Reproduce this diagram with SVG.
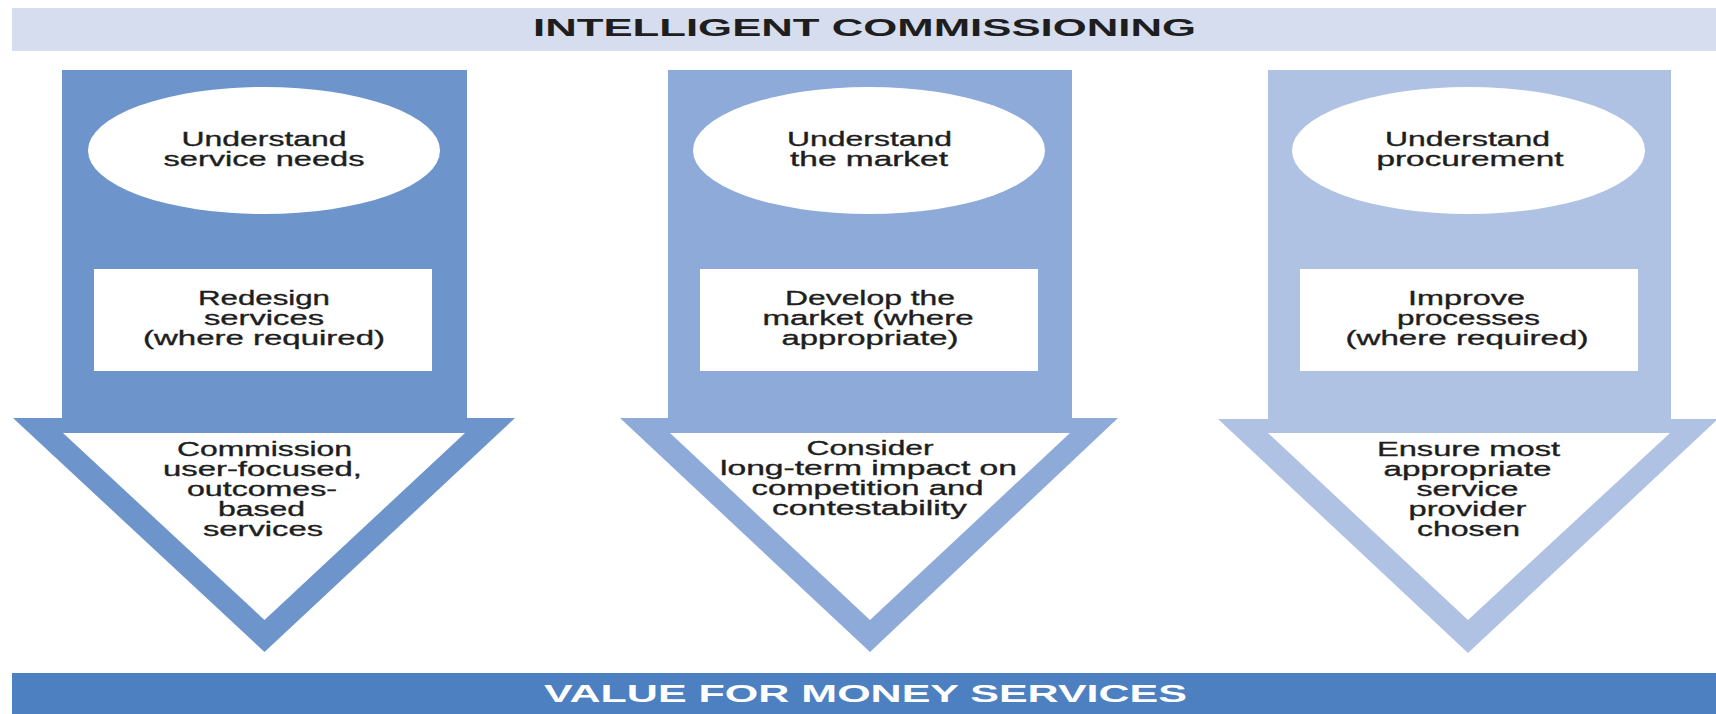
<svg xmlns="http://www.w3.org/2000/svg" width="1716" height="714" viewBox="0 0 1716 714">
<style>
.t{font-family:"Liberation Sans",Arial,sans-serif;font-size:20.5px;fill:#1e1e1e;stroke:#1e1e1e;stroke-width:0.35px;text-anchor:middle}
.h{font-family:"Liberation Sans",Arial,sans-serif;font-size:24px;font-weight:bold;text-anchor:middle}
.w{fill:#ffffff}
</style>
<rect width="1716" height="714" fill="#ffffff"/>
<g id="header">
<rect x="12" y="8" width="1704" height="43" fill="#d5ddef"/>
<text class="h" x="864.5" y="36" fill="#1e1e1e" textLength="663" lengthAdjust="spacingAndGlyphs">INTELLIGENT COMMISSIONING</text>
</g>
<g id="connectors"></g>
<g id="arrow1">
<polygon points="62,70 467,70 467,418 515,418 264.5,652 13,418 62,418" fill="#6e95cb"/>
<polygon class="w" points="63,433 465,433 264.5,620"/>
<ellipse class="w" cx="264" cy="150.5" rx="176" ry="63.5"/>
<rect class="w" x="94" y="269" width="338" height="102"/>
<text class="t" x="264" y="146" textLength="165" lengthAdjust="spacingAndGlyphs">Understand</text>
<text class="t" x="264" y="166" textLength="201" lengthAdjust="spacingAndGlyphs">service needs</text>
<text class="t" x="264" y="305" textLength="132" lengthAdjust="spacingAndGlyphs">Redesign</text>
<text class="t" x="264" y="325" textLength="120" lengthAdjust="spacingAndGlyphs">services</text>
<text class="t" x="264" y="345" textLength="242" lengthAdjust="spacingAndGlyphs">(where required)</text>
<text class="t" x="264.5" y="456" textLength="175" lengthAdjust="spacingAndGlyphs">Commission</text>
<text class="t" x="262.5" y="476" textLength="199" lengthAdjust="spacingAndGlyphs">user-focused,</text>
<text class="t" x="262" y="496" textLength="150" lengthAdjust="spacingAndGlyphs">outcomes-</text>
<text class="t" x="261.5" y="516" textLength="87" lengthAdjust="spacingAndGlyphs">based</text>
<text class="t" x="263" y="536" textLength="120" lengthAdjust="spacingAndGlyphs">services</text>
</g>
<g id="arrow2">
<polygon points="668,70 1072,70 1072,418 1118,418 870,652 620,418 668,418" fill="#8eaad8"/>
<polygon class="w" points="670,433 1070,433 870,620"/>
<ellipse class="w" cx="869" cy="150.5" rx="176" ry="63.5"/>
<rect class="w" x="700" y="269" width="338" height="102"/>
<text class="t" x="869.5" y="146" textLength="165" lengthAdjust="spacingAndGlyphs">Understand</text>
<text class="t" x="869" y="166" textLength="158" lengthAdjust="spacingAndGlyphs">the market</text>
<text class="t" x="870" y="305" textLength="170" lengthAdjust="spacingAndGlyphs">Develop the</text>
<text class="t" x="868" y="325" textLength="211" lengthAdjust="spacingAndGlyphs">market (where</text>
<text class="t" x="870" y="345" textLength="177" lengthAdjust="spacingAndGlyphs">appropriate)</text>
<text class="t" x="870" y="455" textLength="127" lengthAdjust="spacingAndGlyphs">Consider</text>
<text class="t" x="868.5" y="475" textLength="297" lengthAdjust="spacingAndGlyphs">long-term impact on</text>
<text class="t" x="867.5" y="495" textLength="232" lengthAdjust="spacingAndGlyphs">competition and</text>
<text class="t" x="869.5" y="515" textLength="195" lengthAdjust="spacingAndGlyphs">contestability</text>
</g>
<g id="arrow3">
<polygon points="1268,70 1671,70 1671,419 1718,419 1468,653 1218,419 1268,419" fill="#b0c2e3"/>
<polygon class="w" points="1268,433 1670,433 1468,620"/>
<ellipse class="w" cx="1468.5" cy="150.5" rx="176.5" ry="63.5"/>
<rect class="w" x="1300" y="269" width="338" height="102"/>
<text class="t" x="1467.5" y="146" textLength="165" lengthAdjust="spacingAndGlyphs">Understand</text>
<text class="t" x="1470" y="166" textLength="187" lengthAdjust="spacingAndGlyphs">procurement</text>
<text class="t" x="1466.5" y="305" textLength="117" lengthAdjust="spacingAndGlyphs">Improve</text>
<text class="t" x="1468.5" y="325" textLength="143" lengthAdjust="spacingAndGlyphs">processes</text>
<text class="t" x="1467" y="345" textLength="243" lengthAdjust="spacingAndGlyphs">(where required)</text>
<text class="t" x="1468.5" y="456" textLength="183" lengthAdjust="spacingAndGlyphs">Ensure most</text>
<text class="t" x="1467.5" y="476" textLength="168" lengthAdjust="spacingAndGlyphs">appropriate</text>
<text class="t" x="1467.5" y="496" textLength="102" lengthAdjust="spacingAndGlyphs">service</text>
<text class="t" x="1467.5" y="516" textLength="118" lengthAdjust="spacingAndGlyphs">provider</text>
<text class="t" x="1468.5" y="536" textLength="103" lengthAdjust="spacingAndGlyphs">chosen</text>
</g>
<g id="footer">
<rect x="12" y="673" width="1704" height="41" fill="#4d80c1"/>
<text class="h" x="865.5" y="702" fill="#ffffff" textLength="643" lengthAdjust="spacingAndGlyphs">VALUE FOR MONEY SERVICES</text>
</g>
</svg>
